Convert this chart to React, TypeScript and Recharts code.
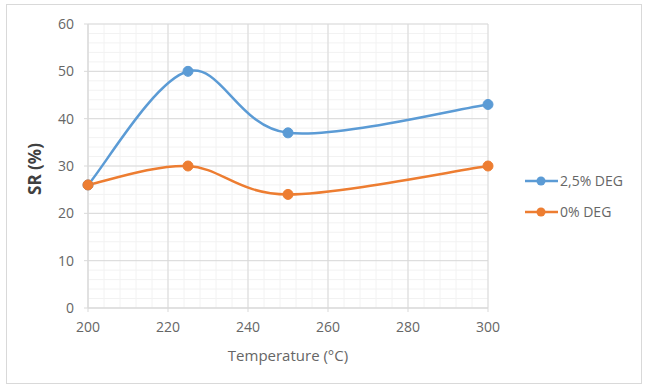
import React from 'react';
import { LineChart, Line, XAxis, YAxis, CartesianGrid, Legend, Label } from 'recharts';

const xValues = [200, 225, 250, 300];
const deg25 = [26, 50, 37, 43];
const deg0 = [26, 30, 24, 30];
const seriesNames = ['2,5% DEG', '0% DEG'];
const seriesColors = ['#5B9BD5', '#ED7D31'];
const xTicks = [200, 220, 240, 260, 280, 300];
const yTicks = [0, 10, 20, 30, 40, 50, 60];
const xMinor: number[] = [];
for (let v = 200; v <= 300; v += 4) xMinor.push(v);
const yMinor: number[] = [];
for (let v = 0; v <= 60; v += 2) yMinor.push(v);

const data = xValues.map((x, i) => ({ x, a: deg25[i], b: deg0[i] }));

// Excel-like smoothing (Catmull-Rom style bezier)
const excelCurve = (context: any) => {
  let pts: number[][] = [];
  return {
    areaStart() {},
    areaEnd() {},
    lineStart() {
      pts = [];
    },
    point(x: number, y: number) {
      pts.push([+x, +y]);
    },
    lineEnd() {
      const n = pts.length;
      if (!n) return;
      context.moveTo(pts[0][0], pts[0][1]);
      for (let i = 0; i < n - 1; i++) {
        const p0 = pts[i - 1] || pts[i];
        const p1 = pts[i];
        const p2 = pts[i + 1];
        const p3 = pts[i + 2] || pts[i + 1];
        const c1x = p1[0] + (p2[0] - p0[0]) / 6;
        const c1y = p1[1] + (p2[1] - p0[1]) / 6;
        const c2x = p2[0] - (p3[0] - p1[0]) / 6;
        const c2y = p2[1] - (p3[1] - p1[1]) / 6;
        context.bezierCurveTo(c1x, c1y, c2x, c2y, p2[0], p2[1]);
      }
    },
  };
};

const FONT = '"Open Sans", "Liberation Sans", sans-serif';
const TEXT = '#666666';

const LegendContent = () => (
  <svg width={124} height={64}>
    {seriesNames.map((name, i) => (
      <g key={name}>
        <line x1={5} x2={38} y1={16 + i * 31} y2={16 + i * 31} stroke={seriesColors[i]} strokeWidth={2.5} />
        <circle cx={21} cy={16 + i * 31} r={4.5} fill={seriesColors[i]} />
        <text x={40} y={16 + i * 31} dy="0.35em" fontFamily={FONT} fontSize={14} fill={TEXT}>
          {name}
        </text>
      </g>
    ))}
  </svg>
);

export default function App() {
  return (
    <div style={{ position: 'absolute', left: 0, top: 0, width: 649, height: 387, background: '#fff' }}>
      <div
        style={{
          position: 'absolute',
          left: 6,
          top: 4,
          width: 636,
          height: 380,
          border: '1px solid #d9d9d9',
          boxSizing: 'border-box',
        }}
      />
      <div style={{ position: 'absolute', left: 0, top: 0 }}>
        <LineChart width={649} height={387} data={data} margin={{ top: 24, right: 161, bottom: 0, left: 0 }}>
          <CartesianGrid
            stroke="#f2f2f2"
            strokeWidth={1}
            horizontalValues={yMinor}
            verticalValues={xMinor}
            fill="none"
          />
          <CartesianGrid
            stroke="#d9d9d9"
            strokeWidth={1}
            horizontalValues={yTicks}
            verticalValues={xTicks}
            fill="none"
          />
          <XAxis
            dataKey="x"
            type="number"
            domain={[200, 300]}
            ticks={xTicks}
            interval={0}
            height={79}
            axisLine={{ stroke: '#d9d9d9' }}
            tickLine={{ stroke: '#d9d9d9' }}
            tickSize={4}
            tickMargin={10}
            tick={{ fill: TEXT, fontSize: 14, fontFamily: FONT }}
          >
            <Label
              content={({ viewBox }: any) => (
                <text
                  x={viewBox.x + viewBox.width / 2}
                  y={356}
                  dy="0.35em"
                  textAnchor="middle"
                  fontFamily={FONT}
                  fontSize={15}
                  fill={TEXT}
                >
                  Temperature (°C)
                </text>
              )}
            />
          </XAxis>
          <YAxis
            type="number"
            domain={[0, 60]}
            ticks={yTicks}
            interval={0}
            width={88}
            axisLine={{ stroke: '#d9d9d9' }}
            tickLine={{ stroke: '#d9d9d9' }}
            tickSize={4}
            tickMargin={10}
            tick={{ fill: TEXT, fontSize: 14, fontFamily: FONT }}
          >
            <Label
              content={() => (
                <text
                  x={35}
                  y={169}
                  dy="0.35em"
                  transform="rotate(-90 35 169)"
                  textAnchor="middle"
                  fontFamily={FONT}
                  fontSize={17}
                  fontWeight="bold"
                  fill="#404040"
                >
                  SR (%)
                </text>
              )}
            />
          </YAxis>
          <Legend
            layout="horizontal"
            align="center"
            verticalAlign="middle"
            content={LegendContent as any}
            wrapperStyle={{ position: 'absolute', left: 520, top: 165, width: 124, height: 64 }}
          />
          <Line
            dataKey="a"
            name={seriesNames[0]}
            type={excelCurve as any}
            stroke={seriesColors[0]}
            strokeWidth={2.5}
            dot={{ r: 5, fill: seriesColors[0], stroke: seriesColors[0], strokeWidth: 1 }}
            activeDot={false}
            isAnimationActive={false}
          />
          <Line
            dataKey="b"
            name={seriesNames[1]}
            type={excelCurve as any}
            stroke={seriesColors[1]}
            strokeWidth={2.5}
            dot={{ r: 5, fill: seriesColors[1], stroke: seriesColors[1], strokeWidth: 1 }}
            activeDot={false}
            isAnimationActive={false}
          />
        </LineChart>
      </div>
    </div>
  );
}
